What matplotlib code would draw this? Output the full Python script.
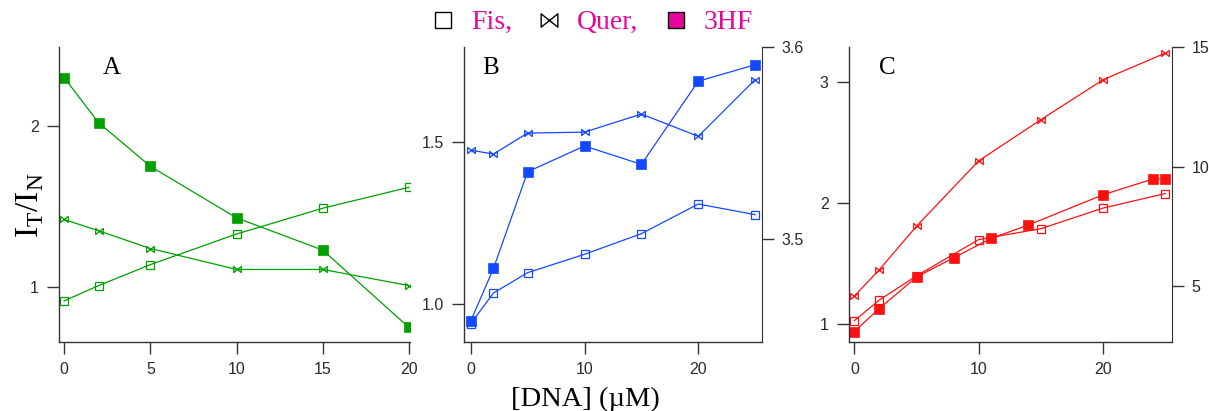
import numpy as np
import matplotlib
matplotlib.use("Agg")
import matplotlib.pyplot as plt
from matplotlib.path import Path
from matplotlib.lines import Line2D

# panel A (green)
xA = [0, 2, 5, 10, 15, 20]
fisA = [0.915, 1.01, 1.14, 1.33, 1.49, 1.62]
querA = [1.42, 1.35, 1.24, 1.11, 1.11, 1.01]
hfA = [2.30, 2.02, 1.75, 1.43, 1.23, 0.75]

# panel B (blue)
xB = [0, 2, 5, 10, 15, 20, 25]
fisB = [0.938, 1.033, 1.096, 1.153, 1.217, 1.309, 1.276]
querB = [1.476, 1.464, 1.529, 1.532, 1.588, 1.519, 1.695]
hfB = [0.946, 1.109, 1.409, 1.489, 1.432, 1.690, 1.741]

# panel C (red)
xC = [0, 2, 5, 10, 15, 20, 25]
fisC = [1.03, 1.20, 1.40, 1.70, 1.79, 1.96, 2.08]
querC = [1.233, 1.45, 1.81, 2.35, 2.69, 3.02, 3.24]
xC_hf = [0, 2, 5, 8, 11, 14, 20, 24, 25]
hfC = [0.94, 1.13, 1.39, 1.55, 1.71, 1.82, 2.07, 2.20, 2.20]

legend_labels = ["Fis,", "Quer,", "3HF"]

# bowtie marker  |><|
bowtie = Path([(-1, -0.8), (-1, 0.8), (1, -0.8), (1, 0.8), (-1, -0.8)],
              [Path.MOVETO, Path.LINETO, Path.LINETO, Path.LINETO, Path.CLOSEPOLY])

fig = plt.figure(figsize=(12.09, 4.11), dpi=100)

tick_col = "#2a2a2a"
serif = ["Liberation Serif", "DejaVu Serif"]
sans = ["Liberation Sans", "DejaVu Sans"]


def style_ticks(ax):
    ax.tick_params(direction="out", length=8.5, width=1.0, color="#333333",
                   labelsize=11.5, labelcolor=tick_col, pad=6)
    for lab in ax.get_xticklabels() + ax.get_yticklabels():
        lab.set_family(sans)


def setup(ax, xlim, ylim, xticks, yticks, ylabels=None):
    ax.set_xlim(*xlim)
    ax.set_ylim(*ylim)
    ax.set_xticks(xticks)
    ax.set_yticks(yticks)
    if ylabels is not None:
        ax.set_yticklabels(ylabels)
    ax.spines["top"].set_visible(False)
    ax.spines["right"].set_visible(False)
    for s in ("left", "bottom"):
        ax.spines[s].set_color("#333333")
        ax.spines[s].set_linewidth(1.0)
    style_ticks(ax)


def draw(ax, x, y, kind, col):
    if kind == "fis":
        ax.plot(x, y, color=col, lw=0.9, marker="s", ms=5.5, mfc="none", mec=col, mew=0.9)
    elif kind == "quer":
        ax.plot(x, y, color=col, lw=0.9, marker=bowtie, ms=5.5, mfc="none", mec=col, mew=0.9)
    else:
        ax.plot(x, y, color=col, lw=0.9, marker="s", ms=6.8, mfc=col, mec=col, mew=0.5)


def right_axis(ax, ylim, yticks):
    r = ax.twinx()
    r.set_ylim(*ylim)
    r.set_yticks(yticks)
    for s in ("top", "left", "bottom"):
        r.spines[s].set_visible(False)
    r.spines["right"].set_color("#333333")
    style_ticks(r)
    return r


bot, top = 0.1679, 0.8856
green = "#00a000"
blue = "#1448ff"
red = "#ff1010"

axA = fig.add_axes([0.0488, bot, 0.339 - 0.0488, top - bot])
setup(axA, (-0.3, 20.05), (0.66, 2.49), [0, 5, 10, 15, 20], [1, 2])
draw(axA, xA, fisA, "fis", green)
draw(axA, xA, querA, "quer", green)
draw(axA, xA, hfA, "hf", green)
axA.text(0.15, 0.93, "A", transform=axA.transAxes, fontsize=18, family=serif,
         ha="center", va="center")

axB = fig.add_axes([0.3838, bot, 0.630 - 0.3838, top - bot])
setup(axB, (-0.59, 25.57), (0.881, 1.796), [0, 10, 20], [1.0, 1.5], ["1.0", "1.5"])
draw(axB, xB, fisB, "fis", blue)
draw(axB, xB, querB, "quer", blue)
draw(axB, xB, hfB, "hf", blue)
axB.text(0.09, 0.93, "B", transform=axB.transAxes, fontsize=18, family=serif,
         ha="center", va="center")
right_axis(axB, (3.446, 3.6), [3.5, 3.6])

axC = fig.add_axes([0.702, bot, 0.969 - 0.702, top - bot])
setup(axC, (-0.45, 25.5), (0.854, 3.29), [0, 10, 20], [1, 2, 3])
draw(axC, xC, fisC, "fis", red)
draw(axC, xC, querC, "quer", red)
draw(axC, xC_hf, hfC, "hf", red)
axC.text(0.12, 0.93, "C", transform=axC.transAxes, fontsize=18, family=serif,
         ha="center", va="center")
right_axis(axC, (2.67, 15), [5, 10, 15])

# axis titles
fig.text(0.025, 0.5, r"I$_\mathregular{T}$/I$_\mathregular{N}$", rotation=90,
         fontsize=24, family=serif, ha="center", va="center")
fig.text(0.484, 0.012, "[DNA] (\u00b5M)", fontsize=20.5, family=serif,
         ha="center", va="baseline")

# legend across the top
handles = [
    Line2D([], [], ls="none", marker="s", ms=12, mfc="white", mec="black", mew=1.0),
    Line2D([], [], ls="none", marker=bowtie, ms=12, mfc="none", mec="black", mew=1.0),
    Line2D([], [], ls="none", marker="s", ms=12, mfc="#e6079a", mec="black", mew=1.0),
]
fig.legend(handles, legend_labels, loc="center", bbox_to_anchor=(0.489, 0.945), ncol=3,
           frameon=False, labelcolor="#e6079a", handlelength=1.0, handletextpad=0.5,
           columnspacing=0.85, prop={"family": serif, "size": 20})

fig.savefig("out.png", dpi=100)
